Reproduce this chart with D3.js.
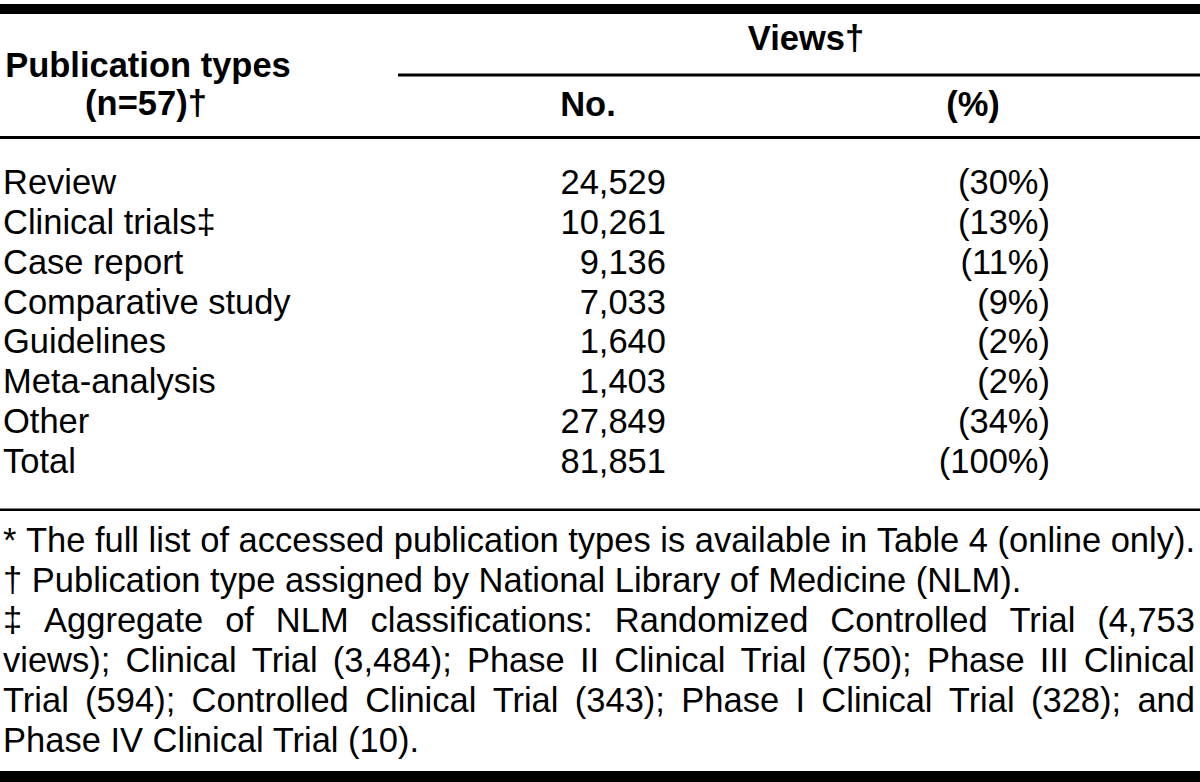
<!DOCTYPE html>
<html>
<head>
<meta charset="utf-8">
<script src="https://cdn.jsdelivr.net/npm/d3@7"></script>
<style>
  html, body { margin: 0; padding: 0; background: #fff; }
  svg { display: block; }
  text { font-family: "Liberation Sans", Arial, Helvetica, sans-serif; fill: #000; }
</style>
</head>
<body>
<svg id="chart" width="1200" height="782"></svg>
<script>
// ---- data ----
const categories = ["Review", "Clinical trials‡", "Case report", "Comparative study", "Guidelines", "Meta-analysis", "Other", "Total"];
const views = [24529, 10261, 9136, 7033, 1640, 1403, 27849, 81851];
const percents = [30, 13, 11, 9, 2, 2, 34, 100];
const headerFirst = ["Publication types", "(n=57)†"];
const headerGroup = "Views†";
const headerCols = ["No.", "(%)"];
const footnotes = [
  "* The full list of accessed publication types is available in Table 4 (online only).",
  "† Publication type assigned by National Library of Medicine (NLM).",
  "‡ Aggregate of NLM classifications: Randomized Controlled Trial (4,753",
  "views); Clinical Trial (3,484); Phase II Clinical Trial (750); Phase III Clinical",
  "Trial (594); Controlled Clinical Trial (343); Phase I Clinical Trial (328); and",
  "Phase IV Clinical Trial (10)."
];
const justified = [true, false, true, true, true, false];

// ---- layout ----
const W = 1200, H = 782;
const svg = d3.select("#chart");
const FS = 36;
const left = 3, right = 1195;

// measure helper
const meas = svg.append("text").attr("font-size", FS).attr("x", 0).attr("y", -100);
function textW(s, weight) {
  meas.attr("font-weight", weight || "normal").text(s);
  return meas.node().getComputedTextLength();
}
// horizontal compression derived from first footnote line width
const sx = (right - left) / textW(footnotes[0]);
meas.remove();

// rules
svg.append("rect").attr("x", 0).attr("y", 4).attr("width", W).attr("height", 10).attr("fill", "#000");
svg.append("rect").attr("x", 398).attr("y", 73.5).attr("width", W - 398).attr("height", 3).attr("fill", "#000");
svg.append("rect").attr("x", 0).attr("y", 136).attr("width", W).attr("height", 3).attr("fill", "#000");
svg.append("rect").attr("x", 0).attr("y", 508.5).attr("width", W).attr("height", 2.5).attr("fill", "#000");
svg.append("rect").attr("x", 0).attr("y", 771).attr("width", W).attr("height", 11).attr("fill", "#000");

const g = svg.append("g").attr("transform", `scale(${sx},1)`);
const X = v => v / sx;

// header
g.append("text").attr("x", X(148)).attr("y", 77).attr("text-anchor", "middle")
  .attr("font-size", FS).attr("font-weight", "bold").text(headerFirst[0]);
g.append("text").attr("x", X(146)).attr("y", 115).attr("text-anchor", "middle")
  .attr("font-size", FS).attr("font-weight", "bold").text(headerFirst[1]);
g.append("text").attr("x", X(806)).attr("y", 50).attr("text-anchor", "middle")
  .attr("font-size", FS).attr("font-weight", "bold").text(headerGroup);
const colCenters = [588, 973];
headerCols.forEach((h, i) => {
  g.append("text").attr("x", X(colCenters[i])).attr("y", 116).attr("text-anchor", "middle")
    .attr("font-size", FS).attr("font-weight", "bold").text(h);
});

// body rows
const y = d3.scalePoint().domain(categories).range([194, 473]);
const fmt = d3.format(",");
const rows = g.append("g");
rows.selectAll("text.cat").data(categories).join("text").attr("class", "cat")
  .attr("x", X(left)).attr("y", d => y(d)).attr("font-size", FS).text(d => d);
rows.selectAll("text.num").data(categories).join("text").attr("class", "num")
  .attr("x", X(666)).attr("y", d => y(d)).attr("text-anchor", "end").attr("font-size", FS)
  .text((d, i) => fmt(views[i]));
rows.selectAll("text.pct").data(categories).join("text").attr("class", "pct")
  .attr("x", X(1050)).attr("y", d => y(d)).attr("text-anchor", "end").attr("font-size", FS)
  .text((d, i) => `(${percents[i]}%)`);

// footnotes
const fy = d3.scaleLinear().domain([0, footnotes.length - 1]).range([552, 752]);
footnotes.forEach((line, i) => {
  const t = g.append("text").attr("y", fy(i)).attr("font-size", FS);
  if (!justified[i]) {
    t.attr("x", X(left)).text(line);
    return;
  }
  const words = line.split(" ");
  // measure words
  const widths = words.map(w => {
    const m = g.append("text").attr("font-size", FS).attr("y", -100).text(w);
    const wd = m.node().getComputedTextLength();
    m.remove();
    return wd;
  });
  const total = d3.sum(widths);
  const gap = (X(right) - X(left) - total) / (words.length - 1);
  let cx = X(left);
  words.forEach((w, k) => {
    t.append("tspan").attr("x", cx).text(w);
    cx += widths[k] + gap;
  });
});
</script>
</body>
</html>
